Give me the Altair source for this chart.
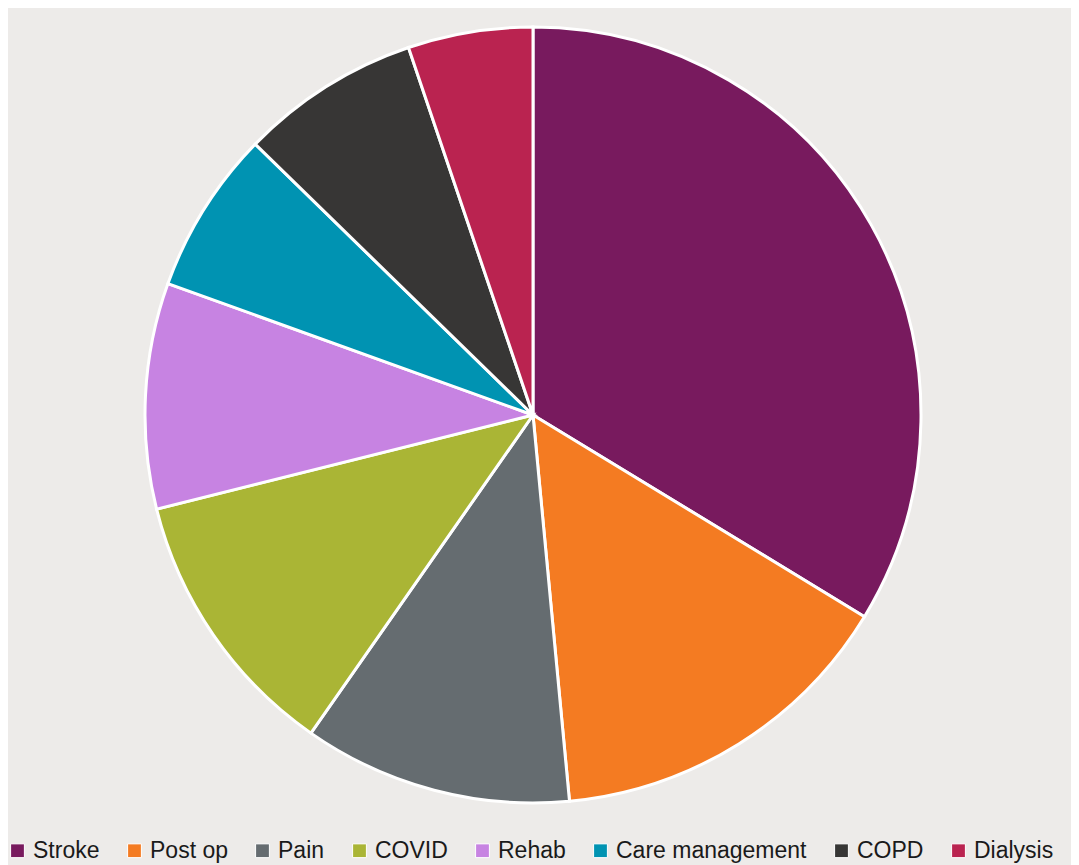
import altair as alt
import pandas as pd

categories = ["Stroke", "Post op", "Pain", "COVID", "Rehab", "Care management", "COPD", "Dialysis"]
values = [33.7, 14.8, 11.2, 11.4, 9.4, 6.8, 7.5, 5.2]
colors = ["#781A5E", "#F47B22", "#656C70", "#AAB535", "#C783E2", "#0093B2", "#373635", "#BA2350"]

df = pd.DataFrame({"category": categories, "value": values, "idx": list(range(len(categories)))})

chart = alt.Chart(df).mark_arc(radius=388, stroke="white", strokeWidth=3).encode(
    theta=alt.Theta("value:Q", stack=True),
    order=alt.Order("idx:Q"),
    color=alt.Color(
        "category:N",
        sort=categories,
        scale=alt.Scale(domain=categories, range=colors),
        legend=alt.Legend(
            title=None,
            orient="none",
            legendX=-2,
            legendY=831,
            direction="horizontal",
            columns=8,
            symbolType="square",
            symbolSize=190,
            symbolStrokeColor="white",
            symbolStrokeWidth=1,
            labelFont="Liberation Sans",
            labelFontSize=23,
            labelColor="#1a1a1a",
            columnPadding=23,
            symbolOffset=0,
            labelOffset=4,
            labelLimit=400,
        ),
    ),
).properties(
    width=1050,
    height=814,
    autosize=alt.AutoSizeParams(type="none"),
    padding={"left": 0, "top": 0, "right": 13, "bottom": 45},
    background="#EDEBE9",
).configure_view(stroke=None)

chart.save("out.html", embed_options={"renderer": "svg", "actions": False})
